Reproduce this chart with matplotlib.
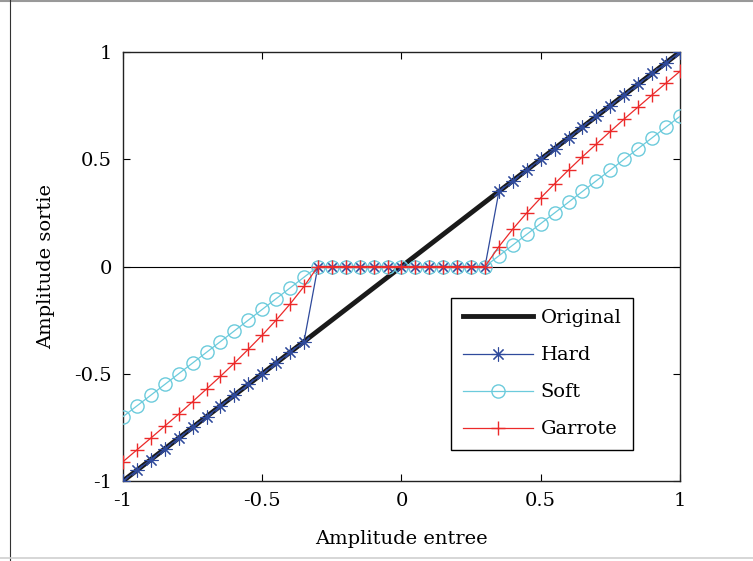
import matplotlib.pyplot as plt
from matplotlib.lines import Line2D

# amplitude d'entree (pas de 0.05)
x = [-1.00, -0.95, -0.90, -0.85, -0.80, -0.75, -0.70, -0.65, -0.60, -0.55,
     -0.50, -0.45, -0.40, -0.35, -0.30, -0.25, -0.20, -0.15, -0.10, -0.05,
     0.00, 0.05, 0.10, 0.15, 0.20, 0.25, 0.30, 0.35, 0.40, 0.45,
     0.50, 0.55, 0.60, 0.65, 0.70, 0.75, 0.80, 0.85, 0.90, 0.95, 1.00]

original = [-1.00, -0.95, -0.90, -0.85, -0.80, -0.75, -0.70, -0.65, -0.60, -0.55,
            -0.50, -0.45, -0.40, -0.35, -0.30, -0.25, -0.20, -0.15, -0.10, -0.05,
            0.00, 0.05, 0.10, 0.15, 0.20, 0.25, 0.30, 0.35, 0.40, 0.45,
            0.50, 0.55, 0.60, 0.65, 0.70, 0.75, 0.80, 0.85, 0.90, 0.95, 1.00]

hard = [-1.00, -0.95, -0.90, -0.85, -0.80, -0.75, -0.70, -0.65, -0.60, -0.55,
        -0.50, -0.45, -0.40, -0.35, 0, 0, 0, 0, 0, 0,
        0, 0, 0, 0, 0, 0, 0, 0.35, 0.40, 0.45,
        0.50, 0.55, 0.60, 0.65, 0.70, 0.75, 0.80, 0.85, 0.90, 0.95, 1.00]

soft = [-0.70, -0.65, -0.60, -0.55, -0.50, -0.45, -0.40, -0.35, -0.30, -0.25,
        -0.20, -0.15, -0.10, -0.05, 0, 0, 0, 0, 0, 0,
        0, 0, 0, 0, 0, 0, 0, 0.05, 0.10, 0.15,
        0.20, 0.25, 0.30, 0.35, 0.40, 0.45, 0.50, 0.55, 0.60, 0.65, 0.70]

garrote = [-0.910, -0.855, -0.800, -0.744, -0.688, -0.630, -0.571, -0.512, -0.450, -0.386,
           -0.320, -0.250, -0.175, -0.093, 0, 0, 0, 0, 0, 0,
           0, 0, 0, 0, 0, 0, 0, 0.093, 0.175, 0.250,
           0.320, 0.386, 0.450, 0.512, 0.571, 0.630, 0.688, 0.744, 0.800, 0.855, 0.910]

ticks = [-1, -0.5, 0, 0.5, 1]
tick_labels = ['-1', '-0.5', '0', '0.5', '1']

plt.rcParams['font.family'] = ['DejaVu Serif']

fig = plt.figure(figsize=(7.53, 5.61), dpi=100)
ax = fig.add_axes([0.1633, 0.1426, 0.7397, 0.7647])

ax.axhline(0, color='black', linewidth=0.8, zorder=1)
ax.plot(x, original, color='#1a1a1a', linewidth=3.5, label='Original', zorder=2)
# asterisque facon matlab (+ et x superposes)
ax.plot(x, hard, color='#2f4a9c', linewidth=0.9, marker=(8, 2, 0), markersize=10,
        markeredgewidth=0.8, label='Hard', zorder=3)
ax.plot(x, soft, color='#6ccbdc', linewidth=0.9, marker='o', markersize=9.5,
        markerfacecolor='none', markeredgewidth=1.0, label='Soft', zorder=4)
ax.plot(x, garrote, color='#ec2a2a', linewidth=0.9, marker='+', markersize=10.5,
        markeredgewidth=1.0, label='Garrote', zorder=5)

ax.set_xlim(-1, 1)
ax.set_ylim(-1, 1)
ax.set_xticks(ticks)
ax.set_xticklabels(tick_labels)
ax.set_yticks(ticks)
ax.set_yticklabels(tick_labels)
ax.tick_params(direction='in', top=True, right=True, length=5, width=0.8,
               labelsize=14, pad=8)
for s in ax.spines.values():
    s.set_linewidth(1.0)
    s.set_color('#222222')

ax.set_xlabel('Amplitude entree', fontsize=14, labelpad=14)
ax.set_ylabel('Amplitude sortie', fontsize=14, labelpad=14)

leg = ax.legend(loc='lower left', bbox_to_anchor=(0.589, 0.072), fontsize=14,
                handlelength=3.6, labelspacing=0.98, borderpad=0.6,
                handletextpad=0.4, fancybox=False, framealpha=1,
                edgecolor='black', borderaxespad=0)
leg.get_frame().set_linewidth(1.0)

# cadre de la figure
fig.add_artist(Line2D([0, 1], [0.998, 0.998], color='#999999', linewidth=1.5, transform=fig.transFigure))
fig.add_artist(Line2D([0.0135, 0.0135], [0, 1], color='#333333', linewidth=0.8, transform=fig.transFigure))
fig.add_artist(Line2D([0, 1], [0.005, 0.005], color='#d0d0d0', linewidth=1.2, transform=fig.transFigure))

fig.savefig('out.png', dpi=100)
